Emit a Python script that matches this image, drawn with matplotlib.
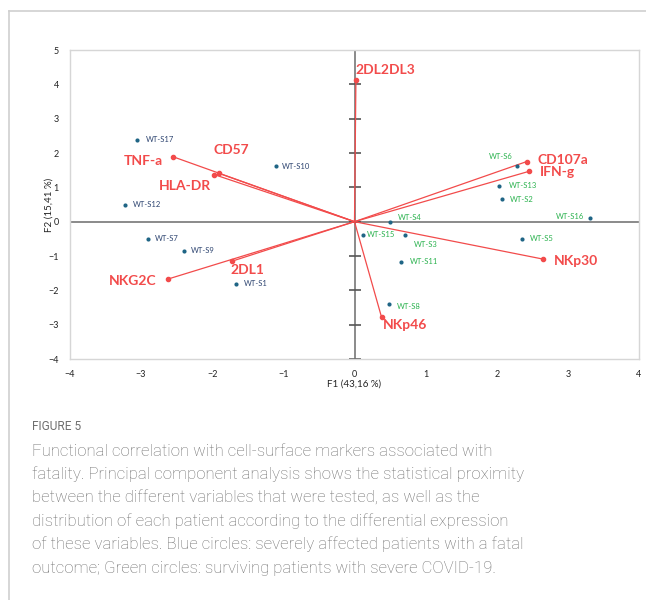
import numpy as np
import matplotlib
matplotlib.use("Agg")
import matplotlib.pyplot as plt
from matplotlib.lines import Line2D

# ── data ──────────────────────────────────────────────────────
fatal_ids = ["WT-S17", "WT-S10", "WT-S12", "WT-S7", "WT-S9", "WT-S1"]
fatal_f1 = [-3.06, -1.11, -3.22, -2.90, -2.40, -1.67]
fatal_f2 = [2.38, 1.61, 0.49, -0.50, -0.85, -1.81]

surv_ids = ["WT-S6", "WT-S13", "WT-S2", "WT-S16", "WT-S4", "WT-S15",
            "WT-S3", "WT-S11", "WT-S5", "WT-S8"]
surv_f1 = [2.28, 2.03, 2.07, 3.31, 0.50, 0.12, 0.71, 0.65, 2.36, 0.48]
surv_f2 = [1.63, 1.05, 0.66, 0.10, 0.00, -0.38, -0.39, -1.17, -0.50, -2.41]

var_names = ["2DL2DL3", "CD107a", "IFN-g", "TNF-a", "CD57", "HLA-DR",
             "NKG2C", "2DL1", "NKp30", "NKp46"]
var_f1 = [0.02, 2.42, 2.46, -2.55, -1.91, -1.97, -2.62, -1.72, 2.65, 0.38]
var_f2 = [4.12, 1.75, 1.47, 1.89, 1.41, 1.37, -1.67, -1.15, -1.09, -2.78]

x_ticks = [-4, -3, -2, -1, 0, 1, 2, 3, 4]
y_ticks = [-4, -3, -2, -1, 0, 1, 2, 3, 4, 5]

caption_head = "FIGURE 5"
caption_lines = [
    "Functional correlation with cell-surface markers associated with",
    "fatality. Principal component analysis shows the statistical proximity",
    "between the different variables that were tested, as well as the",
    "distribution of each patient according to the differential expression",
    "of these variables. Blue circles: severely affected patients with a fatal",
    "outcome; Green circles: surviving patients with severe COVID-19.",
]

# ── label placement (offset in pixels, alignment) ─────────────
pt_off = {
    "WT-S17": (9, 0, "left"), "WT-S10": (6, 0, "left"), "WT-S12": (7, 0, "left"),
    "WT-S7": (7, 0, "left"), "WT-S9": (7, 0, "left"), "WT-S1": (8, 0, "left"),
    "WT-S6": (-4, 9, "right"), "WT-S13": (10, 0, "left"), "WT-S2": (8, 0, "left"),
    "WT-S16": (-6, 2, "right"), "WT-S4": (8, 4, "left"), "WT-S15": (4, 0, "left"),
    "WT-S3": (9, -9, "left"), "WT-S11": (9, 0, "left"), "WT-S5": (8, 0, "left"),
    "WT-S8": (8, -2, "left"),
}
var_off = {
    "2DL2DL3": (0, 10, "left"), "CD107a": (11, 2, "left"), "IFN-g": (10, -1, "left"),
    "TNF-a": (-10, -4, "right"), "CD57": (-5, 23, "left"), "HLA-DR": (-3, -11, "right"),
    "NKG2C": (-12, -2, "right"), "2DL1": (-2, -9, "left"), "NKp30": (11, -2, "left"),
    "NKp46": (1, -8, "left"),
}

RED = "#f24b4b"
DOT = "#1f6585"
NAVY = "#2d4470"
GREEN = "#2ab24e"
AXGRAY = "#8a8a8a"

plt.rcParams["font.family"] = ["Lato", "DejaVu Sans"]

fig = plt.figure(figsize=(6.46, 6.0), dpi=100)
W, H = 646, 600

# card border (top and left)
fig.add_artist(Line2D([9 / W, 1], [1 - 11 / H, 1 - 11 / H], color="#cfcfcf", lw=1.2))
fig.add_artist(Line2D([9 / W, 9 / W], [0, 1 - 11 / H], color="#cfcfcf", lw=1.2))

ax = fig.add_axes([70 / W, 1 - 359 / H, 569 / W, 309 / H])
ax.set_xlim(-4, 4)
ax.set_ylim(-4, 5)
for s in ax.spines.values():
    s.set_color("#d6d6d6")
    s.set_linewidth(1.0)

ax.set_xticks(x_ticks)
ax.set_yticks(y_ticks)
ax.tick_params(length=0, labelsize=6.5, colors="#222222")
ax.tick_params(axis="x", pad=8)
ax.tick_params(axis="y", pad=8)
ax.set_xlabel("F1 (43,16 %)", fontsize=7, labelpad=0, color="#222222")
ax.set_ylabel("F2 (15,41 %)", fontsize=7, labelpad=-4, color="#222222")

# zero axes
ax.plot([x_ticks[0], x_ticks[-1]], [0, 0], color=AXGRAY, lw=1.4, zorder=1)
ax.plot([0, 0], [y_ticks[0], y_ticks[-1]], color=AXGRAY, lw=1.4, zorder=1)
ax.plot(np.zeros(len(y_ticks)), y_ticks, ls="none", marker="_", ms=8,
        mew=1.2, color="#555555", zorder=1)

# variable vectors
for name, x, y in zip(var_names, var_f1, var_f2):
    ax.plot([0, x], [0, y], color=RED, lw=0.9, zorder=2)
    ax.plot(x, y, "o", ms=3.0, color=RED, zorder=3)
    dx, dy, ha = var_off[name]
    ax.annotate(name, (x, y), xytext=(dx, dy), textcoords="offset pixels",
                ha=ha, va="center", fontsize=10, fontweight="bold", color=RED)

# patients
ax.scatter(fatal_f1, fatal_f2, s=9, color=DOT, zorder=4, linewidths=0)
ax.scatter(surv_f1, surv_f2, s=9, color=DOT, zorder=4, linewidths=0)
for ids, xs, ys, col in [(fatal_ids, fatal_f1, fatal_f2, NAVY),
                         (surv_ids, surv_f1, surv_f2, GREEN)]:
    for name, x, y in zip(ids, xs, ys):
        dx, dy, ha = pt_off[name]
        ax.annotate(name, (x, y), xytext=(dx, dy), textcoords="offset pixels",
                    ha=ha, va="center", fontsize=5.5, color=col)

# caption
fig.text(32 / W, 1 - 426 / H, caption_head, fontsize=8.6, color="#6f6f6f",
         va="center", family=["Roboto", "DejaVu Sans"])
for i, line in enumerate(caption_lines):
    fig.text(32 / W, 1 - (451 + 23.4 * i) / H, line, fontsize=12.1, color="#6e6e6e",
             va="center", family=["Roboto", "DejaVu Sans"], fontweight="light")

fig.savefig("out.png", dpi=100, facecolor="white")
